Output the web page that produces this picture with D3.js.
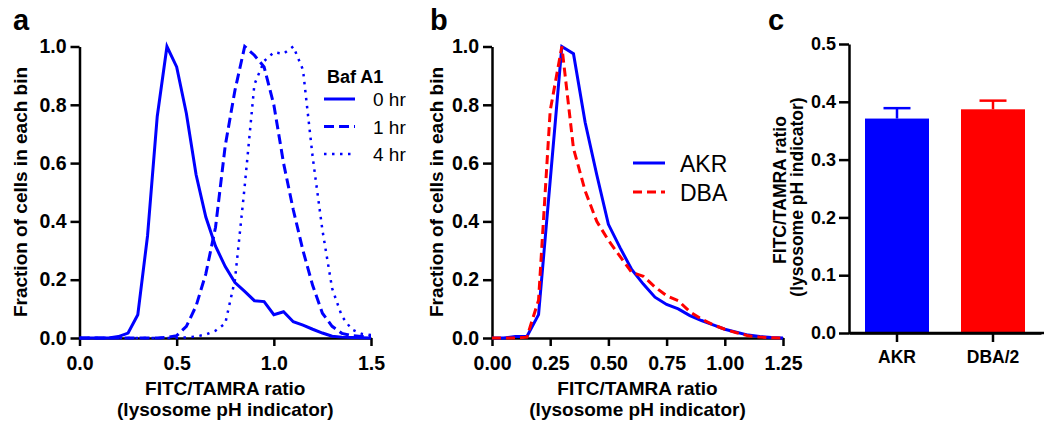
<!DOCTYPE html>
<html>
<head>
<meta charset="utf-8">
<script src="https://cdn.jsdelivr.net/npm/d3@7"></script>
<style>
  body { margin: 0; background: #fff; }
  svg { display: block; font-family: "Liberation Sans", Arial, sans-serif; }
  .axis path, .axis line { stroke: #000; stroke-width: 2.5; }
  .axis text { fill: #000; font-weight: bold; }
</style>
</head>
<body>
<script>
// DATA
// panel a: histogram bins 0.00 .. 1.50, step 0.05
const binsA = [0,0.05,0.1,0.15,0.2,0.25,0.3,0.35,0.4,0.45,0.5,0.55,0.6,0.65,0.7,0.75,0.8,0.85,0.9,0.95,1.0,1.05,1.1,1.15,1.2,1.25,1.3,1.35,1.4,1.45,1.5];
const baf0hr = [0,0,0,0,0.005,0.017,0.08,0.35,0.76,1.0,0.93,0.77,0.56,0.415,0.315,0.245,0.19,0.16,0.128,0.125,0.08,0.09,0.056,0.044,0.03,0.017,0.006,0.003,0.002,0.001,0];
const baf1hr = [0,0,0,0,0,0,0,0,0,0.002,0.008,0.04,0.11,0.22,0.38,0.66,0.85,1.0,0.97,0.93,0.8,0.6,0.44,0.3,0.18,0.085,0.04,0.016,0.008,0.005,0.005];
const baf4hr = [0,0,0,0,0,0,0,0,0,0,0,0.002,0.005,0.012,0.025,0.05,0.2,0.52,0.87,0.95,0.98,0.975,1.0,0.92,0.62,0.37,0.17,0.075,0.03,0.015,0.01];
const legendA = ["0 hr", "1 hr", "4 hr"];

// panel b: bins 0.00 .. 1.25, step 0.05
const binsB = [0,0.05,0.1,0.15,0.2,0.25,0.3,0.35,0.4,0.45,0.5,0.55,0.6,0.65,0.7,0.75,0.8,0.85,0.9,0.95,1.0,1.05,1.1,1.15,1.2,1.25];
const akrHist = [0,0,0.005,0.005,0.08,0.54,1.0,0.975,0.74,0.56,0.39,0.31,0.235,0.185,0.14,0.115,0.1,0.077,0.06,0.045,0.03,0.02,0.01,0.005,0.002,0];
const dbaHist = [0,0,0,0.003,0.13,0.78,1.0,0.65,0.505,0.4,0.335,0.28,0.225,0.212,0.175,0.145,0.128,0.09,0.065,0.045,0.03,0.018,0.008,0.003,0.001,0];
const legendB = ["AKR", "DBA"];

// panel c: mean + SEM
const strains = ["AKR", "DBA/2"];
const meanRatio = [0.371, 0.387];
const semRatio = [0.018, 0.015];

const ticksA = [0, 0.5, 1.0, 1.5];
const ticksB = [0, 0.25, 0.5, 0.75, 1.0, 1.25];
const ticksY = [0, 0.2, 0.4, 0.6, 0.8, 1.0];
const ticksC = [0, 0.1, 0.2, 0.3, 0.4, 0.5];

const BLUE = "#0000ff", RED = "#ff0000";

const svg = d3.select("body").append("svg")
  .attr("width", 1044)
  .attr("height", 426);

// helper: one histogram panel with axes + titles
function histPanel(opts) {
  const x = d3.scaleLinear().domain(opts.xDomain).range([opts.left, opts.right]);
  const y = d3.scaleLinear().domain([0, 1]).range([338, 46.5]);

  const g = svg.append("g");

  g.append("g").attr("class", "axis")
    .attr("transform", "translate(0,338)")
    .call(d3.axisBottom(x).tickValues(opts.xTicks).tickFormat(d3.format(opts.xFmt))
      .tickSize(8).tickSizeOuter(0).tickPadding(10))
    .selectAll("text").style("font-size", "19.5px");

  g.append("g").attr("class", "axis")
    .attr("transform", `translate(${opts.left},0)`)
    .call(d3.axisLeft(y).tickValues(ticksY).tickFormat(d3.format(".1f"))
      .tickSize(9).tickSizeOuter(0).tickPadding(4))
    .selectAll("text").style("font-size", "19.5px");

  const line = xs => d3.line().x((d, i) => x(xs[i])).y(d => y(d));

  opts.series.forEach(s => {
    g.append("path")
      .datum(s.values)
      .attr("fill", "none")
      .attr("stroke", s.color)
      .attr("stroke-width", s.width || 3)
      .attr("stroke-dasharray", s.dash)
      .attr("d", line(opts.bins));
  });

  const cx = (opts.left + opts.right) / 2;
  g.append("text").attr("x", cx).attr("y", 395)
    .attr("text-anchor", "middle").style("font-size", "19px").style("font-weight", "bold")
    .text("FITC/TAMRA ratio");
  g.append("text").attr("x", cx).attr("y", 416)
    .attr("text-anchor", "middle").style("font-size", "19px").style("font-weight", "bold")
    .text("(lysosome pH indicator)");

  g.append("text")
    .attr("transform", `translate(${opts.yLabelX},192) rotate(-90)`)
    .attr("text-anchor", "middle").style("font-size", "19px").style("font-weight", "bold")
    .text("Fraction of cells in each bin");

  g.append("text").attr("x", opts.letterX).attr("y", 30)
    .style("font-size", "29px").style("font-weight", "bold")
    .text(opts.letter);

  return g;
}

// PANEL A
const gA = histPanel({
  left: 79.5, right: 371, xDomain: [0, 1.5], xTicks: ticksA, xFmt: ".1f",
  bins: binsA, yLabelX: 27, letter: "a", letterX: 13,
  series: [
    { values: baf0hr, color: BLUE },
    { values: baf1hr, color: BLUE, dash: "10,5" },
    { values: baf4hr, color: BLUE, dash: "2.5,5.5", width: 2.5 }
  ]
});

gA.append("text").attr("x", 327).attr("y", 83)
  .style("font-size", "18px").style("font-weight", "bold").text("Baf A1");
const dashA = [null, "10,5", "2.5,5.5"];
legendA.forEach((t, i) => {
  const ly = 99 + i * 27.5;
  gA.append("line").attr("x1", 324).attr("x2", 355).attr("y1", ly).attr("y2", ly)
    .attr("stroke", BLUE).attr("stroke-width", i == 2 ? 2.5 : 3).attr("stroke-dasharray", dashA[i]);
  gA.append("text").attr("x", 373).attr("y", ly + 7)
    .style("font-size", "19px").text(t);
});

// PANEL B (red dashed drawn over the blue)
const gB = histPanel({
  left: 492, right: 783, xDomain: [0, 1.25], xTicks: ticksB, xFmt: ".2f",
  bins: binsB, yLabelX: 443, letter: "b", letterX: 430,
  series: [
    { values: akrHist, color: BLUE },
    { values: dbaHist, color: RED, dash: "9,5" }
  ]
});
const dashB = [null, "9,5"];
const colB = [BLUE, RED];
legendB.forEach((t, i) => {
  const ly = 163 + i * 29;
  gB.append("line").attr("x1", 633).attr("x2", 665).attr("y1", ly).attr("y2", ly)
    .attr("stroke", colB[i]).attr("stroke-width", 3).attr("stroke-dasharray", dashB[i]);
  gB.append("text").attr("x", 680).attr("y", ly + 8.5)
    .style("font-size", "23px").text(t);
});

// PANEL C
const xC = d3.scaleBand().domain(strains).range([849, 1041]).paddingInner(1 / 3).paddingOuter(1 / 6);
const yC = d3.scaleLinear().domain([0, 0.5]).range([333, 44]);
const gC = svg.append("g");

strains.forEach((s, i) => {
  const col = i == 0 ? BLUE : RED;
  const cx = xC(s) + xC.bandwidth() / 2;
  gC.append("line").attr("x1", cx).attr("x2", cx)
    .attr("y1", yC(meanRatio[i])).attr("y2", yC(meanRatio[i] + semRatio[i]))
    .attr("stroke", col).attr("stroke-width", 2.5);
  gC.append("line").attr("x1", cx - 13.5).attr("x2", cx + 13.5)
    .attr("y1", yC(meanRatio[i] + semRatio[i])).attr("y2", yC(meanRatio[i] + semRatio[i]))
    .attr("stroke", col).attr("stroke-width", 2.5);
  gC.append("rect")
    .attr("x", xC(s)).attr("width", xC.bandwidth())
    .attr("y", yC(meanRatio[i])).attr("height", yC(0) - yC(meanRatio[i]))
    .attr("fill", col);
});

gC.append("g").attr("class", "axis")
  .attr("transform", "translate(0,333)")
  .call(d3.axisBottom(xC).tickSize(9).tickSizeOuter(0).tickPadding(9))
  .selectAll("text").style("font-size", "17.5px");
gC.append("line").attr("x1", 849).attr("x2", 1044).attr("y1", 333).attr("y2", 333)
  .attr("stroke", "#000").attr("stroke-width", 2.5);

gC.append("g").attr("class", "axis")
  .attr("transform", "translate(849,0)")
  .call(d3.axisLeft(yC).tickValues(ticksC).tickFormat(d3.format(".1f"))
    .tickSize(10).tickSizeOuter(0).tickPadding(3))
  .selectAll("text").style("font-size", "18px");

gC.append("text")
  .attr("transform", "translate(786,190) rotate(-90)")
  .attr("text-anchor", "middle").style("font-size", "17.5px").style("font-weight", "bold")
  .text("FITC/TAMRA ratio");
gC.append("text")
  .attr("transform", "translate(803,197) rotate(-90)")
  .attr("text-anchor", "middle").style("font-size", "17.5px").style("font-weight", "bold")
  .text("(lysosome pH indicator)");

gC.append("text").attr("x", 768).attr("y", 30)
  .style("font-size", "29px").style("font-weight", "bold").text("c");
</script>
</body>
</html>
